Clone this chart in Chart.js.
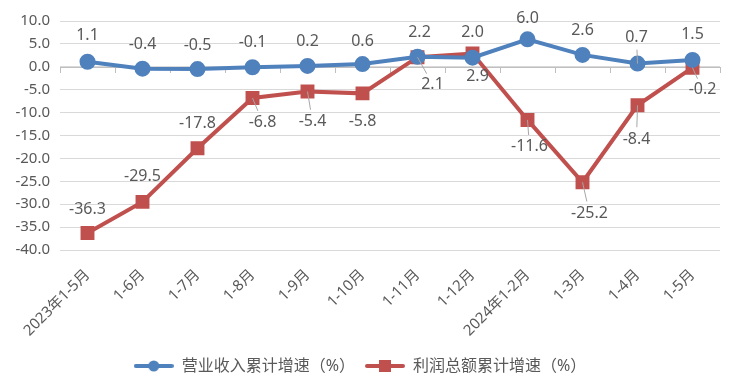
<!DOCTYPE html>
<html>
<head>
<meta charset="utf-8">
<script src="https://cdn.jsdelivr.net/npm/chart.js@4/dist/chart.umd.min.js"></script>
<style>
  html, body { margin: 0; padding: 0; background: #fff; }
  #wrap { width: 740px; height: 392px; }
</style>
</head>
<body>
<div id="wrap"><canvas id="chart" width="740" height="392"></canvas></div>
<script>
const months = ['2023年1-5月', '1-6月', '1-7月', '1-8月', '1-9月', '1-10月', '1-11月', '1-12月', '2024年1-2月', '1-3月', '1-4月', '1-5月'];
const revenueGrowth = [1.1, -0.4, -0.5, -0.1, 0.2, 0.6, 2.2, 2.0, 6.0, 2.6, 0.7, 1.5];
const profitGrowth = [-36.3, -29.5, -17.8, -6.8, -5.4, -5.8, 2.1, 2.9, -11.6, -25.2, -8.4, -0.2];

// label placement [dx, dy, leader]
const revenueLabelPos = [[0,-26,0],[0,-24,0],[0,-24,0],[0,-25,0],[0,-24,0],[0,-23,0],[2,-24,0],[0,-25,0],[0,-21,0],[0,-24,0],[-1,-26,1],[0,-25,0]];
const profitLabelPos = [[0,-24,0],[0,-25,0],[0,-25,0],[10,24,1],[5,30,1],[0,28,0],[15,27,1],[5,23,0],[2,27,1],[7,31,1],[-1,34,1],[10,22,1]];

const textColor = '#595959';
const blue = '#4F81BD';
const red = '#C0504D';
const fontFamily = '"Noto Sans", "Noto Sans CJK SC", sans-serif';

function legendIcon(color, shape) {
  const c = document.createElement('canvas');
  c.width = 40; c.height = 14;
  const g = c.getContext('2d');
  g.strokeStyle = color; g.lineWidth = 4; g.lineCap = 'round';
  g.beginPath(); g.moveTo(2, 7); g.lineTo(38, 7); g.stroke();
  g.fillStyle = color;
  if (shape === 'circle') {
    g.beginPath(); g.arc(20, 7, 5.5, 0, Math.PI * 2); g.fill();
  } else {
    g.fillRect(14, 1, 12, 12);
  }
  return c;
}

const labelPlugin = {
  id: 'valueLabels',
  afterDatasetsDraw(chart) {
    const ctx = chart.ctx;
    const sets = [[0, revenueGrowth, revenueLabelPos], [1, profitGrowth, profitLabelPos]];
    ctx.save();
    ctx.font = '16px ' + fontFamily;
    ctx.fillStyle = textColor;
    ctx.textAlign = 'center';
    ctx.textBaseline = 'middle';
    sets.forEach(([idx, values, pos]) => {
      const meta = chart.getDatasetMeta(idx);
      meta.data.forEach((pt, i) => {
        const [dx, dy, leader] = pos[i];
        const lx = pt.x + dx, ly = pt.y + dy;
        if (leader) {
          const len = Math.hypot(dx, dy);
          const f = (len - 12) / len;
          ctx.strokeStyle = '#a6a6a6';
          ctx.lineWidth = 1;
          ctx.beginPath();
          ctx.moveTo(pt.x, pt.y);
          ctx.lineTo(pt.x + dx * f, pt.y + dy * f);
          ctx.stroke();
        }
        ctx.fillText(values[i].toFixed(1), lx, ly);
      });
    });
    ctx.restore();
  }
};

const zeroAxisPlugin = {
  id: 'zeroAxis',
  beforeDatasetsDraw(chart) {
    const ctx = chart.ctx;
    const x = chart.scales.x, y = chart.scales.y;
    const y0 = Math.round(y.getPixelForValue(0));
    const area = chart.chartArea;
    ctx.save();
    ctx.strokeStyle = '#bfbfbf';
    ctx.lineWidth = 1;
    ctx.beginPath();
    ctx.moveTo(area.left, y0 + 0.5);
    ctx.lineTo(area.right, y0 + 0.5);
    for (let i = 0; i <= months.length; i++) {
      const px = Math.round(x.getPixelForValue(i - 0.5)) + 0.5;
      ctx.moveTo(px, y0);
      ctx.lineTo(px, y0 + 6);
    }
    ctx.stroke();
    ctx.restore();
  }
};

new Chart(document.getElementById('chart'), {
  type: 'line',
  data: {
    labels: months,
    datasets: [
      {
        label: '营业收入累计增速（%）',
        data: revenueGrowth,
        borderColor: blue,
        backgroundColor: blue,
        borderWidth: 4,
        pointStyle: 'circle',
        pointRadius: 6,
        pointHoverRadius: 6,
        tension: 0
      },
      {
        label: '利润总额累计增速（%）',
        data: profitGrowth,
        borderColor: red,
        backgroundColor: red,
        borderWidth: 4,
        pointStyle: 'rect',
        pointRadius: 7,
        pointHoverRadius: 7,
        tension: 0
      }
    ]
  },
  options: {
    responsive: false,
    animation: false,
    layout: { padding: { top: 21, right: 20, left: 0, bottom: 8 } },
    plugins: {
      tooltip: { enabled: false },
      legend: {
        position: 'bottom',
        labels: {
          usePointStyle: true,
          pointStyleWidth: 40,
          padding: 10,
          color: textColor,
          font: { size: 16, family: fontFamily },
          generateLabels(chart) {
            return chart.data.datasets.map((ds, i) => ({
              text: ds.label,
              pointStyle: legendIcon(ds.borderColor, i === 0 ? 'circle' : 'rect'),
              fillStyle: ds.borderColor,
              strokeStyle: ds.borderColor,
              fontColor: textColor,
              lineWidth: 0,
              datasetIndex: i
            }));
          }
        }
      }
    },
    scales: {
      x: {
        offset: true,
        grid: { display: false },
        border: { display: false },
        afterFit(scale) { scale.height = 98; },
        ticks: {
          color: textColor,
          font: { size: 15, family: fontFamily },
          minRotation: 45,
          maxRotation: 45,
          autoSkip: false,
          padding: 8
        }
      },
      y: {
        min: -40,
        max: 10,
        afterFit(scale) { scale.width = 60; },
        grid: { color: '#d9d9d9', drawTicks: false },
        border: { display: false },
        ticks: {
          stepSize: 5,
          color: textColor,
          padding: 10,
          font: { size: 15, family: fontFamily },
          callback: v => v.toFixed(1)
        }
      }
    }
  },
  plugins: [zeroAxisPlugin, labelPlugin]
});
</script>
</body>
</html>
